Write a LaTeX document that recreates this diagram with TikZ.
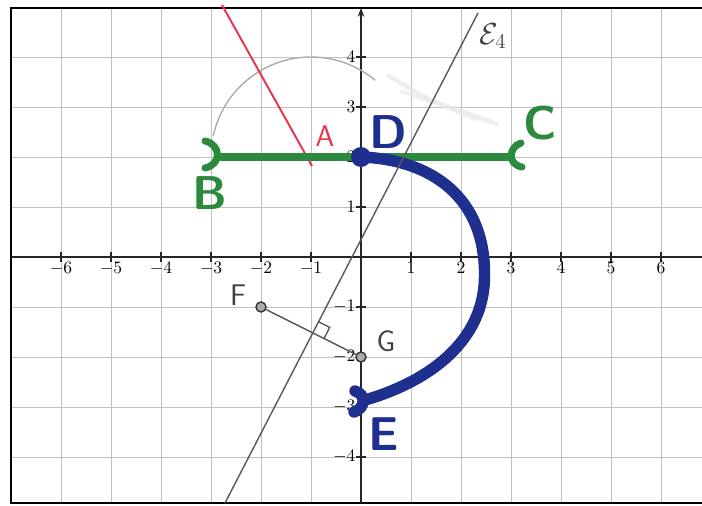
\documentclass[tikz,border=0pt]{standalone}
\usepackage{xcolor}
\usepackage{amsmath,amssymb}
\usepackage{tikz}
\usetikzlibrary{arrows.meta, positioning, calc}
\definecolor{markgreen}{HTML}{2B8A3E}
\definecolor{markblue}{HTML}{1E2F8E}
\definecolor{penred}{HTML}{E8344E}

\begin{document}
\begin{tikzpicture}[x=1cm, y=1cm]
    \tikzstyle{gridln}=[gray!50, line width=0.4pt]
    \tikzstyle{axis}=[black!85, line width=0.9pt]
    \tikzstyle{ticklbl}=[font=\normalsize, inner sep=1.5pt]
    \tikzstyle{bigletter}=[font=\sffamily\bfseries\fontsize{27}{27}\selectfont, inner sep=0pt]
    \tikzstyle{penletter}=[font=\sffamily\fontsize{17}{17}\selectfont, inner sep=0pt]
    \tikzstyle{dotpt}=[circle, draw=black!80, fill=gray!65, minimum size=0.2cm,
                       inner sep=0pt, line width=0.8pt]
    \tikzstyle{gstroke}=[markgreen, line width=4pt, line cap=round]
    \tikzstyle{bstroke}=[markblue, line width=6.5pt, line cap=round]

    \useasboundingbox (-7.22,-4.96) rectangle (6.82,5.14);

    % grid and frame
    \foreach \x in {-6,...,6} \draw[gridln] (\x,-4.92) -- (\x,4.98);
    \foreach \y in {-4,...,4} \draw[gridln] (-7,\y) -- (6.82,\y);
    \draw[line width=1.4pt] (6.82,4.98) -- (-7,4.98) -- (-7,-4.92) -- (6.82,-4.92);

    % axes
    \draw[axis] (-7,0) -- (6.82,0);
    \draw[axis, -{Stealth[length=5pt]}] (0,-4.92) -- (0,4.98);
    \foreach \x in {-6,...,-1,1,2,...,6} {
        \draw[axis, line width=0.6pt] (\x,0.1) -- (\x,-0.1);
        \node[ticklbl, below] at (\x,-0.05) {$\x$};
    }
    \foreach \y in {-4,...,-1,1,2,...,4} {
        \draw[axis, line width=0.6pt] (-0.1,\y) -- (0.1,\y);
        \node[ticklbl, left] at (-0.05,\y) {$\y$};
    }

    % circle arc and smudge
    \draw[gray!65, line width=0.8pt] ($(-1,2)+(168:2)$) arc (168:50:2);
    \draw[gray!22, line width=2.5pt, line cap=round, opacity=0.6]
        (0.55,3.62) -- (1.38,3.14) -- (2.72,2.66);
    \draw[gray!18, line width=2pt, line cap=round, opacity=0.6]
        (0.8,3.32) -- (1.7,3.0) -- (2.3,2.74);

    % red line and A
    \coordinate (r0) at (-2.78,5.04);
    \node[circle, fill=penred!55!black, minimum size=0.15cm, inner sep=0pt] (A) at (-1,2) {};
    \coordinate (r1) at (-0.98,1.82);
    \draw[penred, line width=1.1pt] (r0) -- (r1);
    \node[penletter, text=penred] (lA) at (-0.72,2.42) {A};

    % green segment BC
    \coordinate (B) at (-3,2);
    \coordinate (C) at (3,2);
    \draw[gstroke] ($(B)+(0.2,0)$) -- ($(C)+(-0.05,0)$);
    \draw[gstroke] (-3.12,2.32) .. controls (-2.8,2.25) and (-2.78,1.85) .. (-3.12,1.78);
    \draw[gstroke] (3.2,2.28) .. controls (2.95,2.2) and (2.92,1.85) .. (3.22,1.8);
    \node[bigletter, text=markgreen] (lB) at (-3.02,1.28) {B};
    \node[bigletter, text=markgreen] (lC) at (3.58,2.68) {C};

    % blue curve DE
    \coordinate (Dr) at (2.47,-0.4);
    \coordinate (Ee) at (0.08,-2.86);
    \draw[bstroke] (0,2) .. controls (1.4,1.95) and (2.5,1.2) .. (Dr)
        .. controls (2.45,-1.9) and (1.0,-2.6) .. (Ee);
    \draw[bstroke] (-0.12,-2.68) .. controls (0.1,-2.74) and (0.1,-3.02) .. (-0.14,-3.1);
    \node[circle, fill=markblue, minimum size=0.4cm, inner sep=0pt] (D) at (0,2) {};
    \node[bigletter, text=markblue] (lD) at (0.54,2.5) {D};
    \node[bigletter, text=markblue] (lE) at (0.46,-3.54) {E};

    % line E4 and segment FG
    \coordinate (L1) at (-2.72,-4.92);
    \coordinate (L2) at (2.34,4.88);
    \draw[black!65, line width=0.8pt] (L1) -- (L2);
    \node[penletter, text=black!75] (lL) at (2.64,4.42) {$\mathcal{E}_4$};
    \node[dotpt] (F) at (-2,-1) {};
    \node[dotpt] (G) at (0,-2) {};
    \draw[black!65, line width=0.8pt] (F) -- (G);
    \coordinate (P) at (intersection of F--G and L1--L2);
    \coordinate (ra1) at ($(P)!0.25cm!(G)$);
    \coordinate (ra2) at ($(P)!0.25cm!(L2)$);
    \draw[black!70, line width=0.7pt] (ra1) -- ($(ra1)+(ra2)-(P)$) -- (ra2);
    \node[penletter, text=black!75] (lF) at (-2.46,-0.76) {F};
    \node[penletter, text=black!75] (lG) at (0.5,-1.68) {G};
\end{tikzpicture}
\end{document}
